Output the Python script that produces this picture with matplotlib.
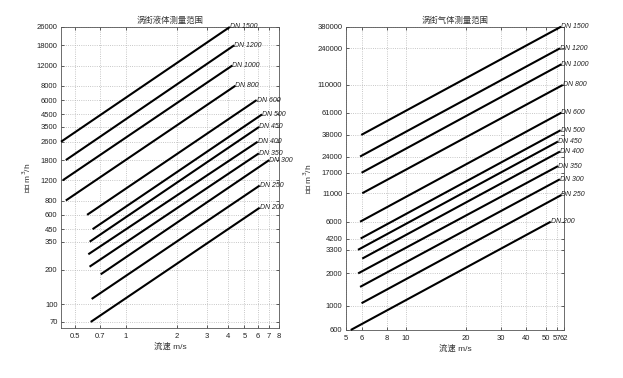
import matplotlib
matplotlib.use("Agg")
import matplotlib.pyplot as plt
from matplotlib.ticker import FixedLocator, FixedFormatter, NullLocator

plt.rcParams['font.family'] = ['Liberation Sans', 'Noto Sans CJK SC']
plt.rcParams['axes.unicode_minus'] = False

# Datos: DN, velocidad mín/máx y caudal mín/máx
dn = [1500, 1200, 1000, 800, 600, 500, 450, 400, 350, 300, 250, 200]

liq_v_min = [0.414, 0.442, 0.424, 0.442, 0.59, 0.636, 0.611, 0.60, 0.61, 0.71, 0.628, 0.62]
liq_v_max = [4.1, 4.35, 4.24, 4.42, 5.9, 6.35, 6.1, 5.98, 6.08, 7.0, 6.15, 6.15]
liq_q_min = [2600, 1800, 1200, 800, 600, 450, 350, 272, 212, 182, 111, 70]
liq_q_max = [26000, 18000, 12000, 8000, 6000, 4500, 3500, 2600, 2060, 1800, 1080, 692]

gas_v_min = [5.98, 5.9, 6.0, 6.05, 5.9, 5.94, 5.76, 6.05, 5.77, 5.9, 6.0, 5.3]
gas_v_max = [59.7, 59.0, 60.0, 60.9, 59.9, 59.4, 57.6, 59.0, 57.7, 58.9, 60.0, 53.0]
gas_q_min = [38000, 24000, 17000, 11000, 6000, 4200, 3300, 2740, 2000, 1500, 1060, 600]
gas_q_max = [380000, 240000, 171000, 110000, 61000, 42000, 33000, 26700, 19600, 14800, 10600, 6000]

liq_xticks = [0.5, 0.7, 1, 2, 3, 4, 5, 6, 7, 8]
liq_yticks = [70, 100, 200, 350, 450, 600, 800, 1200, 1800, 2600, 3500, 4500,
              6000, 8000, 12000, 18000, 26000]
gas_xticks = [5, 6, 8, 10, 20, 30, 40, 50, 57, 62]
gas_yticks = [600, 1000, 2000, 3300, 4200, 6000, 11000, 17000, 24000, 38000,
              61000, 110000, 240000, 380000]

fig = plt.figure(figsize=(6.23, 3.78), dpi=100)
ax1 = fig.add_axes([0.0979, 0.1323, 0.350, 0.7963])
ax2 = fig.add_axes([0.5549, 0.127, 0.3509, 0.8024])


def carta(ax, v_min, v_max, q_min, q_max, xticks, yticks, xlim, ylim, titulo):
    ax.set_xscale('log')
    ax.set_yscale('log')
    for d, v0, v1, q0, q1 in zip(dn, v_min, v_max, q_min, q_max):
        ax.plot([v0, v1], [q0, q1], color='black', lw=1.5, solid_capstyle='butt',
                clip_on=False, zorder=3)
        ax.text(v1, q1, 'DN %d' % d, fontsize=5, style='italic', color='#222222',
                ha='left', va='center', clip_on=False)
    ax.set_xlim(*xlim)
    ax.set_ylim(*ylim)
    ax.xaxis.set_major_locator(FixedLocator(xticks))
    ax.xaxis.set_major_formatter(FixedFormatter([('%g' % t) for t in xticks]))
    ax.yaxis.set_major_locator(FixedLocator(yticks))
    ax.yaxis.set_major_formatter(FixedFormatter([('%g' % t) for t in yticks]))
    ax.xaxis.set_minor_locator(NullLocator())
    ax.yaxis.set_minor_locator(NullLocator())
    ax.tick_params(direction='in', length=2, width=0.5, labelsize=5.5, colors='#222222',
                   top=True, right=True, pad=2.5)
    ax.tick_params(axis='x', pad=3.5)
    ax.grid(True, ls=':', lw=0.6, color='#b5b5b5')
    for s in ax.spines.values():
        s.set_linewidth(0.6)
        s.set_color('#555555')
    ax.set_title(titulo, fontsize=6, color='#333333', pad=3)
    ax.set_xlabel('流速 m/s', fontsize=6, color='#333333', labelpad=2)
    ax.set_ylabel('流量 m$^{3}$/h', fontsize=6, color='#333333', labelpad=3)


carta(ax1, liq_v_min, liq_v_max, liq_q_min, liq_q_max, liq_xticks, liq_yticks,
      (0.414, 8), (62, 26000), '涡街液体测量范围')
carta(ax2, gas_v_min, gas_v_max, gas_q_min, gas_q_max, gas_xticks, gas_yticks,
      (5, 62), (600, 380000), '涡街气体测量范围')

fig.savefig('out.png', dpi=100)
